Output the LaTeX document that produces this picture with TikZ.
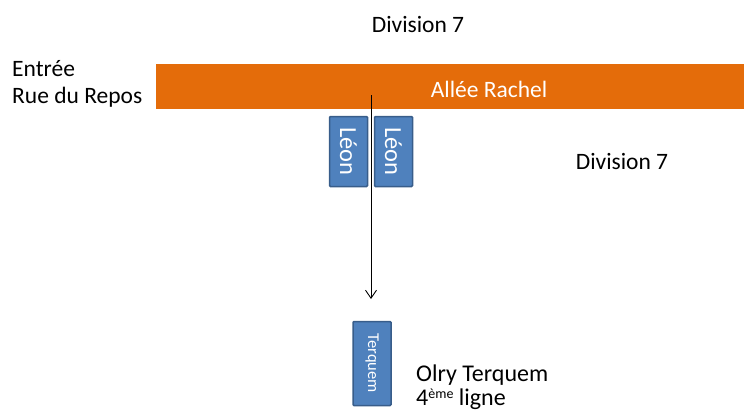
\documentclass[tikz,border=0pt]{standalone}
\usepackage{fontspec}
\setmainfont{Carlito}
\usetikzlibrary{arrows.meta}
\definecolor{barorange}{HTML}{E46C0A}
\definecolor{boxblue}{HTML}{4F81BD}
\definecolor{boxedge}{HTML}{385D8A}
\newcommand{\myexp}[1]{\raisebox{7pt}{\fontsize{14}{14}\selectfont #1}}
\tikzset{
  x=1pt, y=-1pt,
  big/.style={font=\fontsize{23.5}{28}\selectfont, inner sep=0pt},
  bluebox/.style={draw=boxedge, fill=boxblue, line width=1.5pt, rounded corners=1pt,
    text=white, inner sep=0pt, rotate=-90},
  barbox/.style={fill=barorange, draw=none, inner sep=0pt, anchor=north west},
}
\begin{document}
\begin{tikzpicture}
\useasboundingbox (0,0) rectangle (744,410);
% bar
\node[barbox, minimum width=588pt, minimum height=45pt] (bar) at (156,64) {};
\node[big, text=white, anchor=base] (rachel) at (489,97) {Allée Rachel};
% labels
\node[big, anchor=base] (div1) at (418,32) {Division 7};
\node[big, anchor=base] (div2) at (622,169) {Division 7};
\node[big, anchor=base west, align=left, font=\fontsize{23.5}{27}\selectfont] (entree) at (12,103) {Entrée\\Rue du Repos};
% Léon boxes
\node[bluebox, big, font=\fontsize{24.5}{28}\selectfont, minimum width=70pt, minimum height=38pt] (leon1) at (348.5,151.5) {Léon};
\node[bluebox, big, font=\fontsize{24.5}{28}\selectfont, minimum width=70pt, minimum height=38pt] (leon2) at (393.5,151.5) {Léon};
% arrow
\coordinate (astart) at (371,95);
\coordinate (aend) at (371,299);
\draw[line width=0.9pt, -{Straight Barb[length=8pt,width=11pt]}] (astart) -- (aend);
% Terquem box
\node[bluebox, font=\fontsize{16.5}{18}\selectfont, minimum width=84pt, minimum height=38pt] (terq) at (372,363.5) {Terquem};
\node[big, anchor=base west, align=left, font=\fontsize{24}{24}\selectfont] (olry) at (416,405) {Olry Terquem\\4\myexp{ème} ligne};
\end{tikzpicture}
\end{document}
